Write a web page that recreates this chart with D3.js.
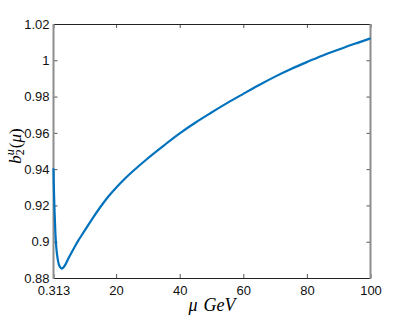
<!DOCTYPE html>
<html>
<head>
  <meta charset="utf-8">
  <title>b2u</title>
  <script src="https://d3js.org/d3.v7.min.js"></script>
  <style>
    body { margin: 0; background: #fff; }
    .tick text { font-family: "Liberation Sans", Arial, sans-serif; font-size: 13px; fill: #111; }
  </style>
</head>
<body>
  <svg width="409" height="315"></svg>
  <script>
    // curve
    var mu = [0.313, 0.4, 0.5, 0.62, 0.75, 0.9, 1.1, 1.3, 1.5, 1.75, 2.0, 2.4, 2.8, 3.3, 4, 5, 6, 7, 8, 10, 12.5, 15, 17.5, 20, 22.5, 25, 30, 35, 40, 45, 50, 55, 60, 65, 70, 75, 80, 85, 90, 95, 100];
    var b2u = [0.9405, 0.932, 0.925, 0.918, 0.912, 0.905, 0.899, 0.895, 0.892, 0.8893, 0.8875, 0.886, 0.8852, 0.8856, 0.8872, 0.8907, 0.894, 0.8972, 0.9003, 0.9058, 0.9126, 0.919, 0.9248, 0.9298, 0.9343, 0.9384, 0.9460, 0.9530, 0.9597, 0.9657, 0.9712, 0.9765, 0.9815, 0.9864, 0.991, 0.9952, 0.999, 1.0026, 1.0059, 1.0091, 1.0121];
    var xTicks = [0.313, 20, 40, 60, 80, 100];
    var yTicks = [0.88, 0.9, 0.92, 0.94, 0.96, 0.98, 1, 1.02];

    var svg = d3.select("svg"),
      boxL = 53.5,
      boxR = 370.5,
      boxT = 24,
      boxB = 278;

    var x = d3.scaleLinear().domain([0.313, 100]).range([boxL, boxR]);
    var y = d3.scaleLinear().domain([0.88, 1.02]).range([boxB, boxT]);

    // ticks (inward, mirrored on top/right)
    function styleAxis(g) {
      g.select(".domain").remove();
      g.selectAll(".tick line").attr("stroke", "#555");
    }
    svg.append("g")
      .attr("transform", "translate(0," + boxB + ")")
      .call(d3.axisBottom(x).tickValues(xTicks).tickSize(-4).tickPadding(8).tickFormat(function(d) { return d; }))
      .call(styleAxis);
    svg.append("g")
      .attr("transform", "translate(0," + boxT + ")")
      .call(d3.axisTop(x).tickValues(xTicks).tickSize(-4).tickFormat(""))
      .call(styleAxis);
    svg.append("g")
      .attr("transform", "translate(" + boxL + ",0)")
      .call(d3.axisLeft(y).tickValues(yTicks).tickSize(-4).tickPadding(4).tickFormat(function(d) { return +d.toFixed(2); }))
      .call(styleAxis);
    svg.append("g")
      .attr("transform", "translate(" + boxR + ",0)")
      .call(d3.axisRight(y).tickValues(yTicks).tickSize(-4).tickFormat(""))
      .call(styleAxis);

    // box
    svg.append("line").attr("x1", boxL).attr("x2", boxR).attr("y1", boxT + 0.5).attr("y2", boxT + 0.5)
      .attr("stroke", "#222").attr("stroke-width", 1);
    svg.append("line").attr("x1", boxL).attr("x2", boxR).attr("y1", boxB + 0.5).attr("y2", boxB + 0.5)
      .attr("stroke", "#222").attr("stroke-width", 1);
    svg.append("line").attr("x1", boxL).attr("x2", boxL).attr("y1", boxT).attr("y2", boxB + 1)
      .attr("stroke", "#8c8c8c").attr("stroke-width", 2);
    svg.append("line").attr("x1", boxR).attr("x2", boxR).attr("y1", boxT).attr("y2", boxB + 1)
      .attr("stroke", "#8c8c8c").attr("stroke-width", 2);

    var line = d3.line()
      .x(function(d, i) { return x(mu[i]); })
      .y(function(d) { return y(d); })
      .curve(d3.curveMonotoneX);

    svg.append("path")
      .datum(b2u)
      .attr("fill", "none")
      .attr("stroke", "#0072BD")
      .attr("stroke-width", 2.2)
      .attr("d", line);

    // x label
    var xl = svg.append("text")
      .attr("x", (boxL + boxR) / 2)
      .attr("y", 311)
      .attr("text-anchor", "middle")
      .attr("font-family", "'Liberation Serif', 'Times New Roman', serif")
      .attr("font-style", "italic")
      .attr("font-size", "18px");
    xl.append("tspan").text("μ");
    xl.append("tspan").attr("dx", 6).text("GeV");

    // y label b_2^u(mu)
    var yl = svg.append("text")
      .attr("transform", "translate(21," + 146 + ") rotate(-90)")
      .attr("text-anchor", "middle")
      .attr("font-family", "'Liberation Serif', 'Times New Roman', serif")
      .attr("font-size", "17px");
    yl.append("tspan").attr("font-style", "italic").text("b");
    yl.append("tspan").attr("font-size", "12px").attr("dy", 3).text("2");
    yl.append("tspan").attr("font-size", "12px").attr("font-style", "italic").attr("dx", -6).attr("dy", -10).text("u");
    yl.append("tspan").attr("dy", 7).attr("dx", 1).text("(");
    yl.append("tspan").attr("font-style", "italic").text("μ");
    yl.append("tspan").text(")");
  </script>
</body>
</html>
